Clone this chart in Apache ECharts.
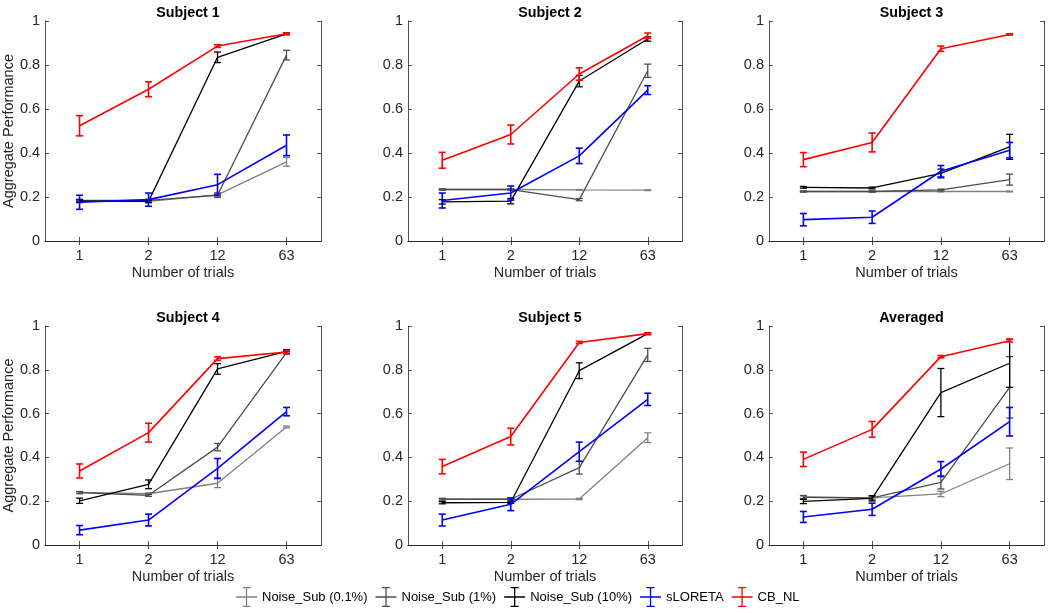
<!DOCTYPE html>
<html><head><meta charset="utf-8">
<script src="https://cdn.jsdelivr.net/npm/echarts@6/dist/echarts.min.js"></script>
<style>html,body{margin:0;padding:0;background:#fff}#c{width:1050px;height:614px}</style>
</head><body><div id="c"></div>
<script>
const categories = ['1', '2', '12', '63'];
const seriesNames = ['Noise_Sub (0.1%)', 'Noise_Sub (1%)', 'Noise_Sub (10%)', 'sLORETA', 'CB_NL'];
const seriesColors = ['#808080', '#4d4d4d', '#000000', '#0000ff', '#ff0000'];
const panelTitles = ['Subject 1', 'Subject 2', 'Subject 3', 'Subject 4', 'Subject 5', 'Averaged'];
const yTicks = [0, 0.2, 0.4, 0.6, 0.8, 1];

// rows: Noise_Sub(0.1%), Noise_Sub(1%), Noise_Sub(10%), sLORETA, CB_NL
const subject1Means = [[0.180,0.180,0.210,0.360],[0.185,0.185,0.208,0.845],[0.181,0.180,0.835,0.942],[0.176,0.188,0.256,0.435],[0.524,0.690,0.886,0.942]];
const subject1Errors = [[0.005,0.005,0.008,0.020],[0.005,0.005,0.010,0.022],[0.006,0.006,0.024,0.004],[0.032,0.030,0.047,0.047],[0.046,0.034,0.006,0.004]];
const subject2Means = [[0.234,0.234,0.232,0.231],[0.234,0.234,0.188,0.774],[0.178,0.181,0.727,0.918],[0.184,0.218,0.387,0.686],[0.367,0.484,0.759,0.933]];
const subject2Errors = [[0.002,0.002,0.002,0.002],[0.003,0.003,0.005,0.030],[0.010,0.012,0.026,0.010],[0.034,0.032,0.035,0.020],[0.036,0.043,0.028,0.012]];
const subject3Means = [[0.225,0.225,0.225,0.225],[0.225,0.225,0.232,0.279],[0.244,0.241,0.307,0.428],[0.097,0.108,0.317,0.413],[0.370,0.448,0.874,0.939]];
const subject3Errors = [[0.002,0.002,0.002,0.002],[0.003,0.003,0.004,0.025],[0.004,0.004,0.020,0.057],[0.028,0.028,0.026,0.035],[0.032,0.043,0.012,0.003]];
const subject4Means = [[0.240,0.234,0.282,0.539],[0.239,0.227,0.447,0.878],[0.202,0.277,0.804,0.884],[0.068,0.114,0.350,0.609],[0.338,0.513,0.851,0.881]];
const subject4Errors = [[0.004,0.004,0.020,0.004],[0.005,0.005,0.017,0.006],[0.012,0.020,0.024,0.008],[0.021,0.027,0.045,0.019],[0.032,0.043,0.008,0.008]];
const subject5Means = [[0.209,0.209,0.210,0.490],[0.209,0.209,0.353,0.868],[0.193,0.195,0.796,0.965],[0.114,0.186,0.426,0.665],[0.358,0.495,0.925,0.965]];
const subject5Errors = [[0.003,0.003,0.003,0.022],[0.004,0.004,0.029,0.030],[0.005,0.005,0.036,0.004],[0.027,0.029,0.044,0.028],[0.033,0.038,0.005,0.004]];
const averagedMeans = [[0.218,0.215,0.233,0.371],[0.218,0.215,0.286,0.720],[0.199,0.213,0.696,0.830],[0.128,0.163,0.347,0.563],[0.391,0.528,0.860,0.933]];
const averagedErrors = [[0.006,0.006,0.012,0.072],[0.008,0.010,0.030,0.140],[0.010,0.012,0.110,0.110],[0.025,0.028,0.034,0.065],[0.033,0.036,0.005,0.006]];

const panelMeans = [subject1Means, subject2Means, subject3Means, subject4Means, subject5Means, averagedMeans];
const panelErrors = [subject1Errors, subject2Errors, subject3Errors, subject4Errors, subject5Errors, averagedErrors];

const colLeft = [45, 408, 769];
const colWidth = [276, 274, 275];
const rowTop = [21, 326];
const rowHeight = [220, 219];
const axisColor = '#262626';
const fontFamily = '"Liberation Sans", Arial, Helvetica, sans-serif';
const fs = 14.5;
const lineWidths = [1.3, 1.3, 1.3, 1.6, 1.6];

const grids = [], xAxes = [], yAxes = [], series = [], titles = [];
for (let p = 0; p < 6; p++) {
  const r = Math.floor(p / 3), c = p % 3;
  grids.push({left: colLeft[c], top: rowTop[r], width: colWidth[c], height: rowHeight[r], containLabel: false});
  titles.push({text: panelTitles[p], left: colLeft[c] + colWidth[c] / 2, top: rowTop[r] - 20, textAlign: 'center',
    textStyle: {fontFamily, fontSize: 14.3, fontWeight: 'bold', color: '#000'}});
  const axLine = {show: true, lineStyle: {color: axisColor, width: 0.8}};
  const tick = {show: true, inside: true, alignWithLabel: true, length: 4, lineStyle: {color: axisColor, width: 0.8}};
  xAxes.push({gridIndex: p, type: 'category', data: categories, boundaryGap: true, position: 'bottom',
    axisLine: axLine, axisTick: tick,
    axisLabel: {fontFamily, fontSize: fs, color: axisColor, margin: 7},
    name: 'Number of trials', nameLocation: 'middle', nameGap: 24,
    nameTextStyle: {fontFamily, fontSize: fs, color: axisColor}});
  xAxes.push({gridIndex: p, type: 'category', data: categories, boundaryGap: true, position: 'top',
    axisLine: axLine, axisTick: tick, axisLabel: {show: false}});
  const yBase = {gridIndex: p, type: 'value', min: 0, max: 1, interval: 0.2, splitLine: {show: false},
    axisLine: axLine, axisTick: {show: true, inside: true, length: 4, lineStyle: {color: axisColor, width: 0.8}}};
  yAxes.push(Object.assign({}, yBase, {position: 'left',
    axisLabel: {fontFamily, fontSize: fs, color: axisColor, margin: 5, formatter: v => String(+v.toFixed(1))},
    name: c === 0 ? 'Aggregate Performance' : '', nameLocation: 'middle', nameGap: 27,
    nameTextStyle: {fontFamily, fontSize: fs, color: axisColor}}));
  yAxes.push(Object.assign({}, yBase, {position: 'right', axisLabel: {show: false}}));

  const means = panelMeans[p], errs = panelErrors[p];
  for (let s = 0; s < 5; s++) {
    const color = seriesColors[s];
    series.push({type: 'line', name: seriesNames[s], xAxisIndex: 2 * p, yAxisIndex: 2 * p,
      data: means[s], symbol: 'none', silent: true, animation: false,
      lineStyle: {color, width: lineWidths[s]}, itemStyle: {color}, z: 2 + s});
    const ebData = means[s].map((m, i) => [i, m - errs[s][i], m + errs[s][i]]);
    series.push({type: 'custom', name: seriesNames[s], xAxisIndex: 2 * p, yAxisIndex: 2 * p,
      data: ebData, encode: {x: 0, y: [1, 2]}, silent: true, animation: false, z: 2 + s,
      renderItem: (params, api) => {
        const x = api.value(0);
        const lo = api.coord([x, api.value(1)]);
        const hi = api.coord([x, api.value(2)]);
        const w = 3.5;
        const st = {stroke: color, lineWidth: lineWidths[s]};
        return {type: 'group', children: [
          {type: 'line', shape: {x1: lo[0], y1: lo[1], x2: hi[0], y2: hi[1]}, style: st},
          {type: 'line', shape: {x1: lo[0] - w, y1: lo[1], x2: lo[0] + w, y2: lo[1]}, style: st},
          {type: 'line', shape: {x1: hi[0] - w, y1: hi[1], x2: hi[0] + w, y2: hi[1]}, style: st}
        ]};
      }});
  }
}

const ebIcon = 'path://M0,9.35 H21 V10.65 H0 Z M9.85,0 H11.15 V20 H9.85 Z M6.5,0 H14.5 V1.3 H6.5 Z M6.5,18.7 H14.5 V20 H6.5 Z';
const chart = echarts.init(document.getElementById('c'), null, {renderer: 'canvas'});
chart.setOption({
  backgroundColor: '#fff',
  animation: false,
  title: titles,
  grid: grids,
  xAxis: xAxes,
  yAxis: yAxes,
  legend: {
    top: 587, left: 236, itemWidth: 21, itemHeight: 20, itemGap: 8, selectedMode: false, padding: 0,
    textStyle: {fontFamily, fontSize: 13, color: '#000'},
    data: seriesNames.map((n, i) => ({name: n, icon: ebIcon, itemStyle: {color: seriesColors[i]}}))
  },
  series
});
</script></body></html>
